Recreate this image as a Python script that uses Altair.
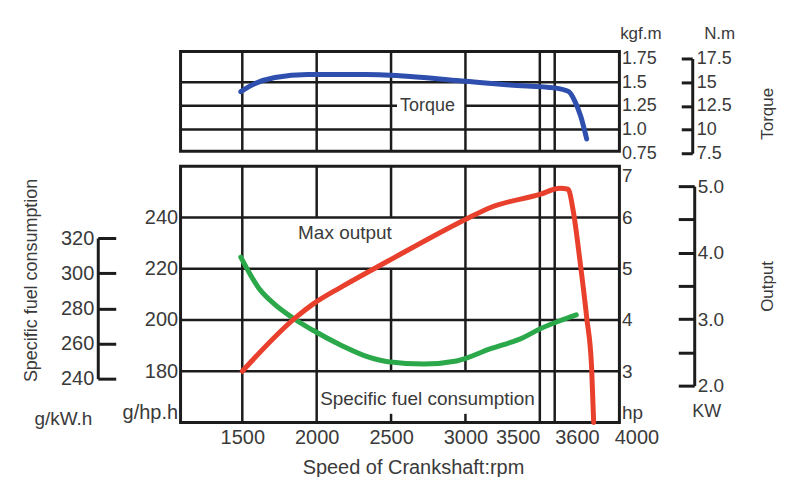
import altair as alt
import pandas as pd

# ---------------- data ----------------
RPM_DOMAIN = [1085, 4035]
RPM_TICKS = [1500, 2000, 2500, 3000, 3500, 3600, 4000]

# Torque curve (kgf.m)
torque_rpm = [1490, 1565, 1720, 1940, 2330, 2630, 2960, 3300, 3600, 3695, 3735, 3775, 3815]
torque_kgf = [1.40, 1.47, 1.55, 1.58, 1.58, 1.56, 1.515, 1.47, 1.44, 1.40, 1.30, 1.14, 0.90]

# Max output curve (hp)
output_rpm = [1500, 1860, 1975, 2170, 2480, 3020, 3165, 3500, 3635, 3690, 3725, 3770, 3815, 3848, 3862]
output_hp = [3.0, 4.05, 4.31, 4.65, 5.15, 5.99, 6.19, 6.45, 6.57, 6.55, 6.12, 5.15, 4.05, 3.08, 2.0]

# Specific fuel consumption curve (g/hp.h)
sfc_rpm = [1490, 1610, 1720, 1835, 1975, 2170, 2350, 2480, 2720, 2940, 3165, 3390, 3500, 3635, 3745]
sfc_g = [224.5, 212.5, 206, 201, 196, 190, 185.5, 183.7, 182.8, 184, 188.7, 193.2, 196.5, 199.7, 202]

# axis tick values
KGF_TICKS = [0.75, 1.0, 1.25, 1.5, 1.75]
NM_TICKS = [7.5, 10, 12.5, 15, 17.5]
HP_TICKS = [2, 3, 4, 5, 6, 7]
GHP_TICKS = [160, 180, 200, 220, 240]
KW_TICKS = [2.0, 2.5, 3.0, 3.5, 4.0, 4.5, 5.0]
GKW_TICKS = [240, 260, 280, 300, 320]

# grid segments
top_vgrid_rpm = [1500, 2000, 2500, 3000, 3500, 3600]
top_hgrid_kgf = [1.0, 1.25, 1.25, 1.5]
top_hgrid_from = [1085, 1085, 3000, 1085]
top_hgrid_to = [4035, 2540, 4035, 4035]

main_vgrid_rpm = [1500, 2000, 2000, 2500, 2500, 2500, 3000, 3000, 3500, 3600]
main_vgrid_lo = [2, 2, 6, 2, 3, 6, 2, 3, 2, 2]
main_vgrid_hi = [7, 5, 7, 2.17, 5, 7, 2.17, 7, 7, 7]
main_hgrid_hp = [3, 4, 5, 6]

# in-plot notes
top_notes = ["Torque"]
top_note_rpm = [2745]
top_note_kgf = [1.25]
main_notes = ["Max output", "Specific fuel consumption"]
main_note_rpm = [2190, 2745]
main_note_hp = [5.70, 2.45]

# ---------------- style ----------------
FONT = "Liberation Sans"
INK = "#3a3a3a"
GRID = "#1c1c1c"
BLUE = "#2f4fae"
RED = "#e8402c"
GREEN = "#2aa84a"
GW = 2.5

xs = alt.Scale(domain=RPM_DOMAIN, nice=False, zero=False)
kgf_scale = alt.Scale(domain=[0.75, 1.75], range=[102, 7], nice=False, zero=False)
nm_scale = alt.Scale(domain=[7.5, 17.5], range=[102, 7], nice=False, zero=False)
hp_scale = alt.Scale(domain=[2, 7], nice=False, zero=False)
ghp_scale = alt.Scale(domain=[160, 260], nice=False, zero=False)
kw_scale = alt.Scale(domain=[2, 5], range=[220, 20], nice=False, zero=False)
gkw_scale = alt.Scale(domain=[240, 320], range=[213, 72], nice=False, zero=False)

x_axis = alt.Axis(values=RPM_TICKS, format="d", domain=False, ticks=False, labelPadding=5,
                  labelFontSize=20, titleFontSize=20,
                  labelAlign={"condition": [{"test": "datum.value == 3500", "value": "right"},
                                            {"test": "datum.value >= 3600", "value": "left"}],
                              "value": "center"},
                  title="Speed of Crankshaft:rpm", titleX=233, titleY=45,
                  titleAlign="center", titleBaseline="middle")


def top_x():
    return alt.X("rpm:Q", scale=xs, axis=None)


def main_x():
    return alt.X("rpm:Q", scale=xs, axis=x_axis)


# ---------------- top panel (torque) ----------------
top_v = alt.Chart(pd.DataFrame({"rpm": top_vgrid_rpm})).mark_rule(
    color=GRID, strokeWidth=GW).encode(x=top_x())

top_h = alt.Chart(pd.DataFrame({"kgf": top_hgrid_kgf, "rpm": top_hgrid_from,
                                "rpm2": top_hgrid_to})).mark_rule(
    color=GRID, strokeWidth=GW).encode(
    x=top_x(), x2="rpm2:Q",
    y=alt.Y("kgf:Q", scale=kgf_scale,
            axis=alt.Axis(orient="right", domain=False, ticks=False, labels=False,
                          title="Torque", titleAngle=270, titleX=148, titleY=62,
                          titleAlign="center", titleBaseline="middle", titleFontSize=17)))

torque = alt.Chart(pd.DataFrame({"rpm": torque_rpm, "kgf": torque_kgf})).mark_line(
    color=BLUE, strokeWidth=5, interpolate="monotone", strokeCap="round").encode(
    x=top_x(),
    y=alt.Y("kgf:Q", scale=kgf_scale,
            axis=alt.Axis(orient="right", values=KGF_TICKS,
                          labelExpr="datum.value == 1 ? '1.0' : format(datum.value, '~g')",
                          domain=False, ticks=False, labelPadding=2, labelAlign="left",
                          labelFontSize=18,
                          title="kgf.m", titleAngle=0, titleX=21, titleY=-18,
                          titleAlign="center", titleBaseline="middle", titleFontSize=17)))

nm = alt.Chart(pd.DataFrame({"nm": NM_TICKS})).mark_point(opacity=0).encode(
    y=alt.Y("nm:Q", scale=nm_scale,
            axis=alt.Axis(orient="left", offset=-513, values=NM_TICKS,
                          labelExpr="format(datum.value, '~g')",
                          domain=True, domainWidth=3, ticks=True, tickSize=11, tickWidth=3,
                          labelPadding=-15, labelAlign="left", labelFontSize=18,
                          title="N.m", titleAngle=0, titleX=27, titleY=-18,
                          titleAlign="center", titleBaseline="middle", titleFontSize=17)))

top_txt = alt.Chart(pd.DataFrame({"rpm": top_note_rpm, "kgf": top_note_kgf,
                                  "label": top_notes})).mark_text(
    font=FONT, fontSize=18, color=INK).encode(
    x=top_x(), y=alt.Y("kgf:Q", scale=kgf_scale, axis=None), text="label:N")

top = alt.layer(top_v, top_h, torque, nm, top_txt).resolve_scale(
    y="independent").properties(width=440, height=100)

# ---------------- main panel ----------------
main_v = alt.Chart(pd.DataFrame({"rpm": main_vgrid_rpm, "lo": main_vgrid_lo,
                                 "hi": main_vgrid_hi})).mark_rule(
    color=GRID, strokeWidth=GW).encode(
    x=main_x(), y=alt.Y("lo:Q", scale=hp_scale, axis=None), y2="hi:Q")

main_h = alt.Chart(pd.DataFrame({"hp": main_hgrid_hp})).mark_rule(
    color=GRID, strokeWidth=GW).encode(
    y=alt.Y("hp:Q", scale=hp_scale, axis=None))

sfc = alt.Chart(pd.DataFrame({"rpm": sfc_rpm, "g": sfc_g})).mark_line(
    color=GREEN, strokeWidth=5, interpolate="monotone", strokeCap="round").encode(
    x=main_x(),
    y=alt.Y("g:Q", scale=ghp_scale,
            axis=alt.Axis(orient="left", values=GHP_TICKS,
                          labelExpr="datum.value == 160 ? 'g/hp.h' : format(datum.value, 'd')",
                          labelFlush=True, domain=False, ticks=False, labelPadding=3,
                          labelFontSize=20,
                          title="Specific fuel consumption", titleAngle=270,
                          titleX=-149, titleY=114, titleAlign="center",
                          titleBaseline="middle", titleFontSize=18)))

out = alt.Chart(pd.DataFrame({"rpm": output_rpm, "hp": output_hp})).mark_line(
    color=RED, strokeWidth=5, interpolate="monotone", strokeCap="round").encode(
    x=main_x(),
    y=alt.Y("hp:Q", scale=hp_scale,
            axis=alt.Axis(orient="right", values=HP_TICKS,
                          labelExpr="datum.value == 2 ? 'hp' : format(datum.value, 'd')",
                          labelFlush=True, domain=False, ticks=False, labelPadding=2,
                          labelAlign="left", labelFontSize=19,
                          title="Output", titleAngle=270, titleX=148, titleY=120,
                          titleAlign="center", titleBaseline="middle", titleFontSize=17)))

kw = alt.Chart(pd.DataFrame({"kw": KW_TICKS})).mark_point(opacity=0).encode(
    y=alt.Y("kw:Q", scale=kw_scale,
            axis=alt.Axis(orient="left", offset=-515, values=KW_TICKS,
                          labelExpr="datum.value % 1 == 0 ? format(datum.value, '.1f') : ''",
                          domain=True, domainWidth=3, ticks=True, tickSize=16, tickWidth=3,
                          labelPadding=-19, labelAlign="left", labelFontSize=19,
                          title="KW", titleAngle=0, titleX=12, titleY=246,
                          titleAlign="center", titleBaseline="middle")))

gkw = alt.Chart(pd.DataFrame({"gkw": GKW_TICKS})).mark_point(opacity=0).encode(
    y=alt.Y("gkw:Q", scale=gkw_scale,
            axis=alt.Axis(orient="right", offset=-523, values=GKW_TICKS, format="d",
                          domain=True, domainWidth=3, ticks=True, tickSize=18, tickWidth=3,
                          labelPadding=-22, labelAlign="right", labelFontSize=20,
                          title="g/kW.h", titleAngle=0, titleX=-35, titleY=253,
                          titleAlign="center", titleBaseline="middle", titleFontSize=19)))

main_txt = alt.Chart(pd.DataFrame({"rpm": main_note_rpm, "hp": main_note_hp,
                                   "label": main_notes})).mark_text(
    font=FONT, fontSize=19, color=INK).encode(
    x=main_x(), y=alt.Y("hp:Q", scale=hp_scale, axis=None), text="label:N")

main = alt.layer(main_v, main_h, sfc, out, kw, gkw, main_txt).resolve_scale(
    y="independent").properties(width=440, height=257)

chart = alt.vconcat(top, main, spacing=15, bounds="flush").properties(
    padding={"left": 13, "top": 14, "right": 2, "bottom": 2},
    background="white",
).configure_view(
    stroke=GRID, strokeWidth=3
).configure_axis(
    labelFont=FONT, titleFont=FONT, labelFontSize=18, titleFontSize=18,
    labelColor=INK, titleColor=INK, titleFontWeight="normal", grid=False,
    domainColor=GRID, tickColor=GRID
)

chart.save("out.html", embed_options={"renderer": "svg", "actions": False})
